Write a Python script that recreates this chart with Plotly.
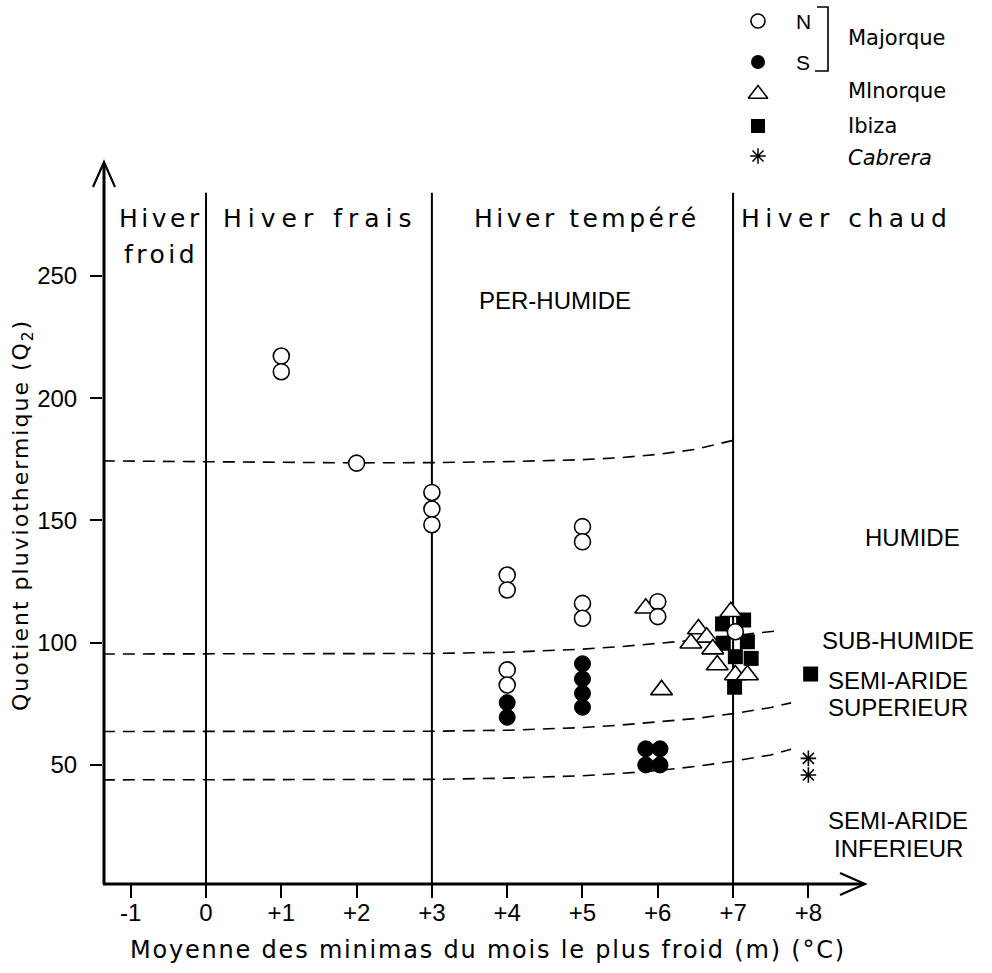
import plotly.graph_objects as go

# ---------------- data ----------------
x_ticks = [-1, 0, 1, 2, 3, 4, 5, 6, 7, 8]
x_ticktext = ["-1", "0", "+1", "+2", "+3", "+4", "+5", "+6", "+7", "+8"]
y_ticks = [50, 100, 150, 200, 250]

# Majorque Nord (open circles)
maj_n_x = [1, 1, 2, 3, 3, 3, 4, 4, 4, 4, 5, 5, 5, 5, 6, 6, 7.03]
maj_n_y = [217.2, 210.8, 173.4, 161.4, 154.6, 148.2, 127.6, 121.5, 88.8, 82.6,
           147.4, 141.2, 116.0, 109.9, 116.7, 110.6, 104.4]
# Majorque Sud (filled circles)
maj_s_x = [4, 4, 5, 5, 5, 5, 5.84, 6.03, 5.84, 6.03]
maj_s_y = [75.4, 69.4, 91.3, 85.1, 79.2, 73.5, 56.5, 56.5, 49.9, 49.9]
# Minorque (open triangles)
min_x = [5.84, 6.05, 6.97, 6.54, 6.65, 6.44, 6.73, 6.79, 7.03, 7.19]
min_y = [114.0, 80.6, 112.6, 105.5, 102.1, 99.7, 97.3, 90.8, 86.7, 86.7]
# Ibiza (filled squares)
ibi_x = [6.86, 7.14, 6.87, 7.19, 7.03, 7.24, 7.02, 8.03]
ibi_y = [107.6, 109.2, 99.7, 100.3, 94.2, 93.5, 81.7, 87.1]
# Cabrera (asterisks)
cab_x = [8.0, 8.0]
cab_y = [52.6, 45.8]

# Emberger limits (dashed curves)
lim1_x = [-1.37, 0, 1, 2, 3, 4, 5, 5.5, 6, 6.5, 7]
lim1_y = [174.3, 174.0, 173.7, 173.5, 173.6, 174.0, 174.8, 175.6, 177.0, 179.0, 182.7]
lim2_x = [-1.37, 0, 1, 2, 3, 4, 5, 5.5, 6, 6.5, 7, 7.6]
lim2_y = [95.3, 95.3, 95.3, 95.4, 95.5, 96.0, 97.3, 98.3, 99.6, 101.0, 102.8, 104.8]
lim3_x = [-1.37, 0, 1, 2, 3, 4, 5, 5.5, 6, 6.5, 7, 7.5, 7.77]
lim3_y = [63.6, 63.6, 63.6, 63.6, 63.7, 64.1, 65.2, 66.2, 67.4, 68.9, 70.9, 73.4, 75.3]
lim4_x = [-1.37, 0, 1, 2, 3, 4, 5, 5.5, 6, 6.5, 7, 7.5, 7.77]
lim4_y = [43.8, 43.8, 43.8, 43.9, 44.0, 44.5, 45.5, 46.4, 47.6, 49.3, 51.4, 54.0, 56.3]

# winter-type boundaries
bound_x = [0, 3, 7]
bound_top = 284

# ---------------- layout geometry ----------------
W, H = 992, 973
L, R, T, B = 103, 865, 162, 883
X0, X1 = -1.368, 8.752
Y0, Y1 = 1.6, 296.6

FONT_W = "DejaVu Sans"
FONT_N = "Liberation Sans"

fig = go.Figure()

dash = "12px,8px"
for lx, ly in [(lim1_x, lim1_y), (lim2_x, lim2_y), (lim3_x, lim3_y), (lim4_x, lim4_y)]:
    fig.add_trace(go.Scatter(x=lx, y=ly, mode="lines",
                             line=dict(color="black", width=1.6, dash=dash),
                             hoverinfo="skip", showlegend=False))

fig.add_trace(go.Scatter(x=maj_s_x, y=maj_s_y, mode="markers",
                         marker=dict(symbol="circle", size=16, color="black",
                                     line=dict(color="black", width=1)),
                         showlegend=False))
fig.add_trace(go.Scatter(x=ibi_x, y=ibi_y, mode="markers",
                         marker=dict(symbol="square", size=15, color="black",
                                     line=dict(color="black", width=0)),
                         showlegend=False))
fig.add_trace(go.Scatter(x=min_x, y=min_y, mode="markers",
                         marker=dict(symbol="triangle-up", size=19, color="white",
                                     line=dict(color="black", width=1.6)),
                         showlegend=False))
fig.add_trace(go.Scatter(x=maj_n_x, y=maj_n_y, mode="markers",
                         marker=dict(symbol="circle", size=16, color="white",
                                     line=dict(color="black", width=1.6)),
                         showlegend=False))
fig.add_trace(go.Scatter(x=cab_x, y=cab_y, mode="markers",
                         marker=dict(symbol="asterisk-open", size=13, color="black",
                                     line=dict(color="black", width=1.6)),
                         showlegend=False))

# legend keys in pixel overlay axes
leg_x = 758
fig.add_trace(go.Scatter(x=[leg_x], y=[21], xaxis="x2", yaxis="y2", mode="markers",
                         marker=dict(symbol="circle", size=14, color="white",
                                     line=dict(color="black", width=1.6)), showlegend=False))
fig.add_trace(go.Scatter(x=[leg_x], y=[62], xaxis="x2", yaxis="y2", mode="markers",
                         marker=dict(symbol="circle", size=14, color="black"), showlegend=False))
fig.add_trace(go.Scatter(x=[leg_x], y=[94], xaxis="x2", yaxis="y2", mode="markers",
                         marker=dict(symbol="triangle-up", size=17, color="white",
                                     line=dict(color="black", width=1.6)), showlegend=False))
fig.add_trace(go.Scatter(x=[leg_x], y=[126], xaxis="x2", yaxis="y2", mode="markers",
                         marker=dict(symbol="square", size=14, color="black"), showlegend=False))
fig.add_trace(go.Scatter(x=[leg_x], y=[156], xaxis="x2", yaxis="y2", mode="markers",
                         marker=dict(symbol="asterisk-open", size=13, color="black",
                                     line=dict(color="black", width=1.5)), showlegend=False))

shapes = []
for bx in bound_x:
    shapes.append(dict(type="line", xref="x", yref="y", x0=bx, x1=bx, y0=Y0, y1=bound_top,
                       line=dict(color="black", width=2), layer="below"))
# axes with arrows (pixel overlay)
shapes.append(dict(type="line", xref="x2", yref="y2", x0=104, x1=104, y0=884, y1=164,
                   line=dict(color="black", width=3)))
shapes.append(dict(type="line", xref="x2", yref="y2", x0=103, x1=862, y0=884, y1=884,
                   line=dict(color="black", width=3)))
shapes.append(dict(type="path", xref="x2", yref="y2",
                   path="M 93,187 L 104,162 L 115,187",
                   line=dict(color="black", width=2.2)))
shapes.append(dict(type="path", xref="x2", yref="y2",
                   path="M 840,873 L 865,884 L 840,895",
                   line=dict(color="black", width=2.2)))
# legend bracket
shapes.append(dict(type="path", xref="x2", yref="y2",
                   path="M 817,7 L 828,7 L 828,71 L 815,71",
                   line=dict(color="black", width=1.6)))

ann = []
def txt(x, y, s, size, family=FONT_W, xanchor="center", italic=False, angle=0, spacing=0):
    if spacing:
        s = '<span style="letter-spacing:%gpx">%s</span>' % (spacing, s)
    ann.append(dict(x=x, y=y, xref="x2", yref="y2", text=s, showarrow=False,
                    xanchor=xanchor, yanchor="middle", textangle=angle,
                    font=dict(family=family, size=size, color="black",
                              style="italic" if italic else "normal")))

# winter types
txt(161, 218, "Hiver", 25, spacing=3.5)
txt(161, 254, "froid", 25, spacing=3.5)
txt(320, 218, "Hiver frais", 25, spacing=6)
txt(587, 218, "Hiver tempéré", 25, spacing=3.5)
txt(846, 218, "Hiver chaud", 25, spacing=5.5)
# bioclimatic stages
txt(555, 300, "PER-HUMIDE", 24, FONT_N)
txt(912, 537, "HUMIDE", 24, FONT_N)
txt(898, 640, "SUB-HUMIDE", 24, FONT_N)
txt(898, 680, "SEMI-ARIDE", 24, FONT_N)
txt(898, 707, "SUPERIEUR", 24, FONT_N)
txt(898, 820, "SEMI-ARIDE", 24, FONT_N)
txt(898, 848, "INFERIEUR", 24, FONT_N)
# legend labels
txt(803, 21, "N", 21, FONT_N)
txt(803, 62, "S", 21, FONT_N)
txt(846, 38, "Majorque", 21, FONT_W, xanchor="left")
txt(846, 91, "MInorque", 21, FONT_W, xanchor="left")
txt(846, 126, "Ibiza", 21, FONT_W, xanchor="left")
txt(846, 158, "Cabrera", 21, FONT_W, xanchor="left", italic=True)
# axis titles
txt(488, 950, "Moyenne des minimas du mois le plus froid (m) (°C)", 24, spacing=1.8)
txt(22, 515, "Quotient pluviothermique (Q<sub>2</sub>)", 22, angle=-90, spacing=2)

fig.update_layout(
    width=W, height=H,
    margin=dict(l=0, r=0, t=0, b=0),
    paper_bgcolor="white", plot_bgcolor="rgba(0,0,0,0)",
    showlegend=False,
    shapes=shapes, annotations=ann,
    xaxis=dict(domain=[L / W, R / W], range=[X0, X1], anchor="y",
               tickmode="array", tickvals=x_ticks, ticktext=x_ticktext,
               ticks="outside", ticklen=14, tickwidth=1.6, tickcolor="black",
               showgrid=False, zeroline=False, showline=False,
               tickfont=dict(family=FONT_N, size=24, color="black"),
               ticklabelstandoff=-6),
    yaxis=dict(domain=[(H - B) / H, (H - T) / H], range=[Y0, Y1], anchor="x",
               tickmode="array", tickvals=y_ticks,
               ticks="outside", ticklen=12, tickwidth=1.6, tickcolor="black",
               showgrid=False, zeroline=False, showline=False,
               tickfont=dict(family=FONT_N, size=24, color="black"),
               ticklabelstandoff=8),
    xaxis2=dict(domain=[0, 1], range=[0, W], anchor="y2", visible=False, fixedrange=True),
    yaxis2=dict(domain=[0, 1], range=[H, 0], anchor="x2", visible=False, fixedrange=True),
)

fig.write_html("out.html")
